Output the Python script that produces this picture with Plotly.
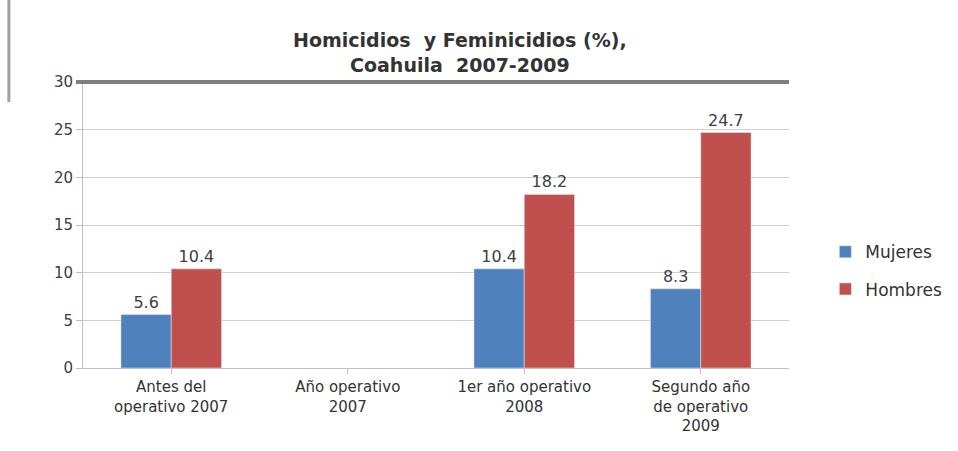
import plotly.graph_objects as go

categories = ["Antes del<br>operativo 2007", "Año operativo<br>2007", "1er año operativo<br>2008", "Segundo año<br>de operativo<br>2009"]
mujeres = [5.6, None, 10.4, 8.3]
hombres = [10.4, None, 18.2, 24.7]
y_ticks = [0, 5, 10, 15, 20, 25, 30]

fig = go.Figure()
fig.add_trace(go.Bar(name="Mujeres", x=categories, y=mujeres, marker_color="#4F81BD",
                     text=[f"{v}" if v is not None else "" for v in mujeres], textposition="outside",
                     textfont=dict(size=16, color="#404040"), cliponaxis=False,
                     legendgroup="a"))
fig.add_trace(go.Bar(name="Hombres", x=categories, y=hombres, marker_color="#C0504D",
                     text=[f"{v}" if v is not None else "" for v in hombres], textposition="outside",
                     textfont=dict(size=16, color="#404040"), cliponaxis=False,
                     legendgroup="b"))

fig.update_layout(
    width=958, height=451,
    margin=dict(l=83, r=168, t=82, b=83),
    paper_bgcolor="white", plot_bgcolor="white",
    barmode="group", bargap=0.43, bargroupgap=0,
    font=dict(family="DejaVu Sans", color="#404040"),
    title=dict(text="<b>Homicidios  y Feminicidios (%),<br>Coahuila  2007-2009</b>",
               x=0.48, xanchor="center", y=0.895, yanchor="middle",
               font=dict(size=19, color="#333333")),
    xaxis=dict(showgrid=False, showline=True, linecolor="#BFBFBF", ticks="outside",
               tickcolor="#BFBFBF", ticklen=5,
               tickfont=dict(size=15, color="#333333")),
    yaxis=dict(range=[0, 30], tickvals=y_ticks, showgrid=True, gridcolor="#D0D0D0",
               showline=True, linecolor="#BFBFBF", ticks="outside", tickcolor="#BFBFBF",
               ticklen=6, tickfont=dict(size=15, color="#404040"), zeroline=False),
    legend=dict(x=1.05, xanchor="left", y=0.34, yanchor="middle",
                font=dict(size=17, color="#333333"), traceorder="grouped",
                tracegroupgap=12, itemwidth=30),
    showlegend=True,
)

fig.add_shape(type="line", xref="paper", yref="paper", x0=-0.01, x1=1.0, y0=1.0, y1=1.0,
              line=dict(color="#7F7F7F", width=4))
fig.add_shape(type="line", xref="paper", yref="paper", x0=-0.105, x1=-0.105, y0=0.93, y1=1.29,
              line=dict(color="#A0A0A0", width=3))

fig.write_html("out.html")
